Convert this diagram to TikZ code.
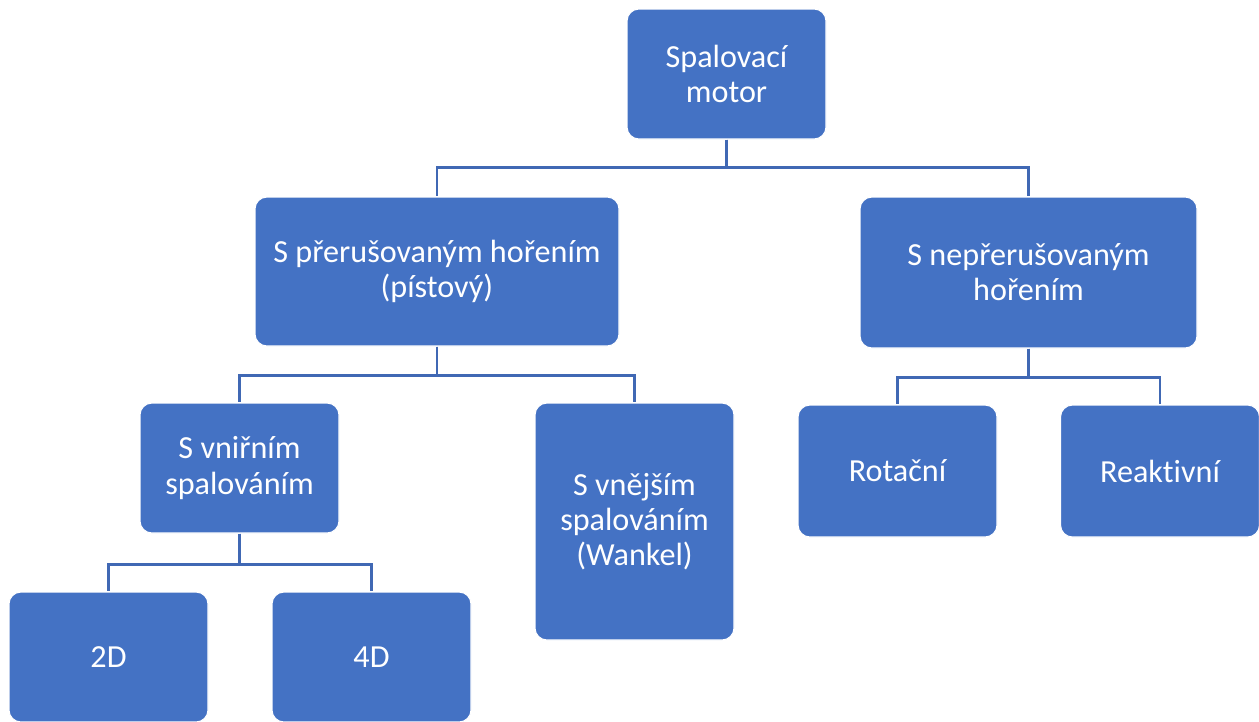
\documentclass[tikz,border=0pt]{standalone}
\usepackage{fontspec}
\setmainfont{Carlito}[Ligatures={NoCommon}]
\usepackage{tikz}
\definecolor{boxblue}{HTML}{4472C4}
\definecolor{linkblue}{HTML}{4068B4}
\tikzstyle{unit} = [
  draw=white,
  line width=0.6pt,
  fill=boxblue,
  rectangle,
  rounded corners=0.24cm,
  align=center,
  text=white,
  font=\fontsize{18.3}{20}\selectfont,
  minimum width=3.98cm,
  minimum height=2.6cm,
  inner sep=0pt,
]
\tikzstyle{link} = [
  draw=linkblue,
  line width=1.6pt,
]

\begin{document}
\begin{tikzpicture}[
    x=1cm, y=1cm,
  ]
  \useasboundingbox (0,0) rectangle (25.18,-14.42);
  \node[
    unit,
  ](motor) at (14.53,-1.48) {Spalovací\\motor};
  \node[
    unit,
    minimum width=7.28cm,
    minimum height=2.98cm,
  ](piston) at (8.74,-5.43) {S přerušovaným hořením\\(pístový)};
  \node[
    unit,
    minimum width=6.74cm,
    minimum height=3.02cm,
  ](steady) at (20.57,-5.45) {S nepřerušovaným\\hořením};
  \node[
    unit,
  ](inner) at (4.79,-9.36) {S vniřním\\spalováním};
  \node[
    unit,
    minimum height=4.74cm,
  ](outer) at (12.69,-10.43) {S vnějším\\spalováním\\(Wankel)};
  \node[
    unit,
    minimum height=2.64cm,
  ](rotary) at (17.95,-9.42) {Rotační};
  \node[
    unit,
    minimum height=2.64cm,
  ](jet) at (23.2,-9.42) {Reaktivní};
  \node[
    unit,
  ](twod) at (2.17,-13.14) {2D};
  \node[
    unit,
  ](fourd) at (7.43,-13.14) {4D};
  % connectors
  \foreach \c in {piston,steady}
    \path[link] (motor.south) -- ++(0,-0.56) -| (\c.north);
  \foreach \c in {inner,outer}
    \path[link] (piston.south) -- ++(0,-0.58) -| (\c.north);
  \foreach \c in {rotary,jet}
    \path[link] (steady.south) -- ++(0,-0.58) -| (\c.north);
  \foreach \c in {twod,fourd}
    \path[link] (inner.south) -- ++(0,-0.62) -| (\c.north);
\end{tikzpicture}
\end{document}
